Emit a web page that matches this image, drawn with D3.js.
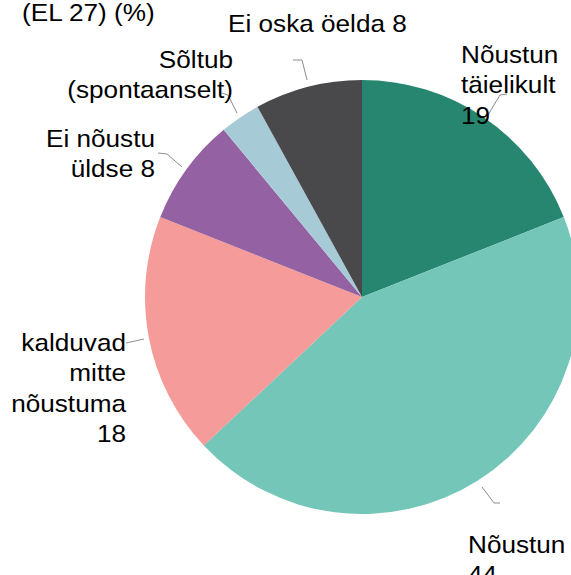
<!DOCTYPE html>
<html>
<head>
<meta charset="utf-8">
<script src="https://cdn.jsdelivr.net/npm/d3@7"></script>
<style>
  html, body { margin: 0; padding: 0; background: #fff; }
  svg { display: block; }
  text { font-family: "Liberation Sans", Arial, sans-serif; fill: #000; }
</style>
</head>
<body>
<svg id="chart" width="571" height="575"></svg>
<script>
// Answer shares (%), clockwise from 12 o'clock
const categories = [
  "Nõustun täielikult",
  "Nõustun",
  "kalduvad mitte nõustuma",
  "Ei nõustu üldse",
  "Sõltub (spontaanselt)",
  "Ei oska öelda"
];
const values = [19, 44, 18, 8, 3, 8];
const colors = ["#26866f", "#73c6b8", "#f59b99", "#9462a2", "#a7cbd6", "#49494b"];

// Label text, broken into lines
const labelLines = [
  ["Nõustun", "täielikult", "19"],
  ["Nõustun", "44"],
  ["kalduvad", "mitte", "nõustuma", "18"],
  ["Ei nõustu", "üldse 8"],
  ["Sõltub", "(spontaanselt)"],
  ["Ei oska öelda 8"]
];
const titleText = "(EL 27) (%)";

// Layout
const cx = 362, cy = 297, radius = 217;
const fontSize = 24, lineGap = 30.5, stretchX = 1.09;
// label anchor (first baseline), alignment, leader polyline — relative to pie centre
const labelLayout = [
  { x: 99,   y: -234, anchor: "start", leader: [[145, -203], [138, -202], [126, -182]] },
  { x: 106,  y: 256,  anchor: "start", leader: [[120, 190], [132, 206], [138, 206]] },
  { x: -236, y: 54,   anchor: "end",   leader: [[-236, 46], [-218, 42]] },
  { x: -207, y: -150, anchor: "end",   leader: [[-204, -144], [-195, -143], [-180, -130]] },
  { x: -129, y: -229, anchor: "end",   leader: [[-140, -204], [-134, -202], [-125, -184]] },
  { x: -134, y: -265, anchor: "start", leader: [[-69, -237], [-60, -237], [-55, -217]] }
];

const svg = d3.select("#chart");

const pie = d3.pie().sort(null).value(d => d)
  .startAngle(0).endAngle(2 * Math.PI);
const arc = d3.arc().innerRadius(0).outerRadius(radius);

const g = svg.append("g").attr("transform", `translate(${cx},${cy})`);

g.selectAll("path.slice")
  .data(pie(values))
  .join("path")
  .attr("class", "slice")
  .attr("d", arc)
  .attr("fill", (d, i) => colors[i]);

// leader lines
const line = d3.line();
g.selectAll("path.leader")
  .data(labelLayout)
  .join("path")
  .attr("class", "leader")
  .attr("d", d => line(d.leader))
  .attr("fill", "none")
  .attr("stroke", "#8c8c8c")
  .attr("stroke-width", 1);

// labels (slightly wide type)
g.selectAll("g.label")
  .data(labelLines)
  .join("g")
  .attr("class", "label")
  .attr("transform", (d, i) => `translate(${labelLayout[i].x},${labelLayout[i].y}) scale(${stretchX},1)`)
  .append("text")
  .attr("font-size", fontSize)
  .attr("text-anchor", (d, i) => labelLayout[i].anchor)
  .each(function (lines) {
    d3.select(this).selectAll("tspan")
      .data(lines)
      .join("tspan")
      .attr("x", 0)
      .attr("y", (t, k) => k * lineGap)
      .text(t => t);
  });

// title (partly above the visible area)
svg.append("g")
  .attr("transform", `translate(22,21) scale(${stretchX},1)`)
  .append("text")
  .attr("font-size", fontSize)
  .text(titleText);
</script>
</body>
</html>
